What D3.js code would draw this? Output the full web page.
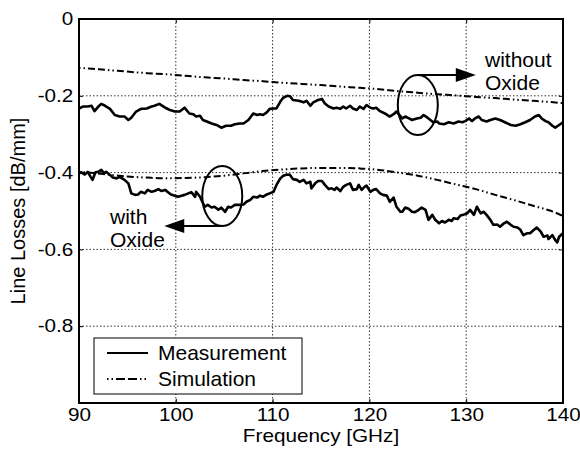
<!DOCTYPE html>
<html>
<head>
<meta charset="utf-8">
<script src="https://cdn.jsdelivr.net/npm/d3@7"></script>
<style>
body{margin:0;background:#fff}
text{font-family:"Liberation Sans",Arial,Helvetica,sans-serif;fill:#000}
</style>
</head>
<body>
<script>
var xTicks=[90,100,110,120,130,140]
var yTicks=[0,-0.2,-0.4,-0.6,-0.8,-1]
var yLabels=["0","-0.2","-0.4","-0.6","-0.8",""]
var legendNames=["Measurement","Simulation"]

// measurement without oxide
var measNoOxF=[90.0,90.4,90.9,91.3,91.6,92.0,92.3,92.7,93.2,93.7,94.2,94.7,95.1,95.4,95.9,96.4,97.0,97.5,97.8,98.3,98.9,99.4,99.9,100.4,100.9,101.4,101.8,102.1,102.5,102.8,103.2,103.7,104.2,104.7,105.2,105.7,106.1,106.6,107.0,107.5,108.0,108.4,108.7,109.0,109.4,109.7,110.1,110.4,110.8,111.1,111.5,111.8,112.1,112.7,113.2,113.5,113.9,114.2,114.7,115.1,115.4,115.8,116.3,116.6,117.0,117.3,117.6,118.0,118.3,118.7,119.0,119.4,119.7,120.1,120.4,120.7,121.1,121.6,122.1,122.5,122.8,123.4,123.7,124.1,124.4,124.9,125.3,125.6,126.0,126.3,126.6,127.0,127.2,127.7,128.2,128.7,129.2,129.6,129.9,130.3,130.6,130.9,131.3,131.6,132.1,132.5,133.0,133.5,134.0,134.6,135.1,135.6,136.1,136.6,137.1,137.5,137.8,138.2,138.5,138.9,139.2,139.6,140.0]
var measNoOxV=[-0.233,-0.228,-0.228,-0.226,-0.240,-0.228,-0.221,-0.226,-0.234,-0.250,-0.254,-0.254,-0.263,-0.257,-0.241,-0.234,-0.233,-0.228,-0.226,-0.221,-0.231,-0.237,-0.241,-0.241,-0.231,-0.246,-0.248,-0.254,-0.252,-0.263,-0.267,-0.272,-0.276,-0.283,-0.278,-0.278,-0.274,-0.272,-0.272,-0.263,-0.246,-0.250,-0.248,-0.250,-0.243,-0.234,-0.233,-0.233,-0.215,-0.205,-0.200,-0.201,-0.211,-0.213,-0.217,-0.213,-0.226,-0.217,-0.211,-0.208,-0.220,-0.228,-0.233,-0.231,-0.234,-0.228,-0.233,-0.226,-0.233,-0.237,-0.228,-0.234,-0.224,-0.231,-0.233,-0.231,-0.240,-0.246,-0.254,-0.248,-0.241,-0.259,-0.254,-0.259,-0.263,-0.259,-0.257,-0.250,-0.257,-0.263,-0.269,-0.267,-0.272,-0.274,-0.269,-0.272,-0.267,-0.269,-0.266,-0.259,-0.266,-0.259,-0.254,-0.263,-0.267,-0.263,-0.259,-0.263,-0.269,-0.276,-0.278,-0.274,-0.269,-0.263,-0.254,-0.250,-0.259,-0.266,-0.269,-0.278,-0.283,-0.276,-0.269]

// measurement with oxide
var measOxF=[90.0,90.2,90.6,90.9,91.2,91.4,91.7,92.0,92.3,92.6,92.8,93.2,93.5,93.9,94.2,94.7,95.1,95.4,95.8,96.1,96.4,96.8,97.1,97.5,97.8,98.2,98.5,98.9,99.2,99.5,99.9,100.2,100.6,100.9,101.3,101.6,102.0,102.1,102.5,102.7,103.0,103.3,103.7,104.0,104.4,104.7,105.1,105.4,105.7,106.1,106.6,107.0,107.3,107.7,108.0,108.4,108.7,109.0,109.4,109.7,110.1,110.4,110.8,111.1,111.5,111.8,112.1,112.5,112.8,113.2,113.5,113.9,114.0,114.4,114.7,115.1,115.4,115.8,116.1,116.4,116.6,117.0,117.3,117.6,118.0,118.3,118.7,118.9,119.2,119.5,119.7,120.1,120.4,120.7,121.1,121.4,121.8,122.1,122.5,122.8,123.2,123.4,123.7,124.1,124.4,124.7,125.1,125.4,125.8,126.1,126.5,126.8,127.2,127.5,127.8,128.2,128.5,128.7,129.1,129.4,129.7,130.1,130.4,130.8,131.1,131.5,131.8,132.1,132.5,132.8,133.2,133.5,133.9,134.2,134.6,134.9,135.3,135.6,135.9,136.3,136.6,137.0,137.3,137.7,138.0,138.4,138.5,138.9,139.2,139.4,139.6,140.0]
var measOxV=[-0.402,-0.399,-0.405,-0.398,-0.411,-0.419,-0.399,-0.398,-0.393,-0.402,-0.398,-0.406,-0.413,-0.415,-0.411,-0.419,-0.428,-0.454,-0.458,-0.457,-0.450,-0.454,-0.445,-0.450,-0.448,-0.443,-0.448,-0.445,-0.451,-0.457,-0.460,-0.463,-0.460,-0.458,-0.454,-0.451,-0.463,-0.450,-0.463,-0.474,-0.489,-0.484,-0.491,-0.489,-0.497,-0.491,-0.502,-0.489,-0.491,-0.484,-0.484,-0.483,-0.476,-0.471,-0.463,-0.465,-0.460,-0.463,-0.457,-0.454,-0.450,-0.432,-0.415,-0.408,-0.405,-0.406,-0.417,-0.419,-0.424,-0.419,-0.428,-0.424,-0.441,-0.428,-0.422,-0.422,-0.432,-0.443,-0.441,-0.445,-0.439,-0.448,-0.437,-0.432,-0.428,-0.445,-0.443,-0.432,-0.445,-0.437,-0.434,-0.450,-0.445,-0.443,-0.454,-0.458,-0.460,-0.476,-0.465,-0.489,-0.502,-0.502,-0.491,-0.495,-0.502,-0.503,-0.497,-0.491,-0.497,-0.523,-0.510,-0.523,-0.532,-0.526,-0.530,-0.523,-0.526,-0.519,-0.521,-0.512,-0.510,-0.506,-0.497,-0.510,-0.489,-0.506,-0.502,-0.510,-0.523,-0.536,-0.535,-0.541,-0.532,-0.528,-0.536,-0.541,-0.543,-0.549,-0.563,-0.558,-0.558,-0.549,-0.543,-0.554,-0.567,-0.564,-0.573,-0.563,-0.576,-0.582,-0.567,-0.558]

// simulation
var simF=[90,91,93,95,97,99,101,103,105,107,109,111,113,115,117,119,121,123,125,127,129,131,133,135,137,139,140]
var simNoOxV=[-0.127,-0.129,-0.133,-0.137,-0.141,-0.144,-0.148,-0.152,-0.155,-0.159,-0.162,-0.166,-0.169,-0.172,-0.176,-0.179,-0.183,-0.188,-0.192,-0.196,-0.199,-0.203,-0.206,-0.210,-0.213,-0.217,-0.219]
var simOxV=[-0.398,-0.400,-0.405,-0.410,-0.413,-0.415,-0.414,-0.412,-0.408,-0.402,-0.396,-0.392,-0.389,-0.388,-0.388,-0.389,-0.393,-0.400,-0.408,-0.419,-0.431,-0.443,-0.458,-0.472,-0.487,-0.502,-0.513]

var W=580,H=457
var m={left:79,right:17,top:19,bottom:54}
var fs="21px"
var simDash="1.5,3,1.5,3,7,3,7,3"

var svg=d3.select("body").append("svg")
          .attr("width",W)
          .attr("height",H)

var x=d3.scaleLinear().domain([90,140]).range([m.left,W-m.right])
var y=d3.scaleLinear().domain([-1,0]).range([H-m.bottom,m.top])

// grid
svg.append("g")
   .selectAll("line")
   .data(xTicks.slice(1,-1))
   .enter()
   .append("line")
   .attr("x1",function(d){return x(d)})
   .attr("x2",function(d){return x(d)})
   .attr("y1",y(0))
   .attr("y2",y(-1))
   .attr("stroke","#333")
   .attr("stroke-width",1)
   .attr("stroke-dasharray","1.5,2")
svg.append("g")
   .selectAll("line")
   .data(yTicks.slice(1,-1))
   .enter()
   .append("line")
   .attr("y1",function(d){return y(d)})
   .attr("y2",function(d){return y(d)})
   .attr("x1",x(90))
   .attr("x2",x(140))
   .attr("stroke","#333")
   .attr("stroke-width",1)
   .attr("stroke-dasharray","1.5,2")

// axes, ticks inward
svg.append("g").attr("transform","translate(0,"+y(-1)+")")
   .call(d3.axisBottom(x).tickValues(xTicks).tickSize(-4).tickPadding(5).tickFormat(d3.format("d")))
svg.append("g").attr("transform","translate(0,"+y(0)+")")
   .call(d3.axisTop(x).tickValues(xTicks).tickSize(-4).tickFormat(""))
svg.append("g").attr("transform","translate("+x(90)+",0)")
   .call(d3.axisLeft(y).tickValues(yTicks).tickSize(-4).tickPadding(5).tickFormat(function(d,i){return yLabels[i]}))
svg.append("g").attr("transform","translate("+x(140)+",0)")
   .call(d3.axisRight(y).tickValues(yTicks).tickSize(-4).tickFormat(""))
svg.selectAll(".domain").remove()
svg.selectAll(".tick line").attr("stroke","#000").attr("stroke-width",1)
// the figure's lettering is a bit wide, so stretch it a little
svg.selectAll(".tick text")
   .style("font-size","18px")
   .style("font-family","'Liberation Sans',Arial,sans-serif")
   .attr("transform","scale(1.15,1)")
   .attr("fill","#000")

svg.append("rect")
   .attr("x",x(90))
   .attr("y",y(0))
   .attr("width",x(140)-x(90))
   .attr("height",y(-1)-y(0))
   .attr("fill","none")
   .attr("stroke","#000")
   .attr("stroke-width",2)

// curves
var mline=d3.line().x(function(d){return x(d[0])}).y(function(d){return y(d[1])})
var sline=d3.line().x(function(d){return x(d[0])}).y(function(d){return y(d[1])}).curve(d3.curveMonotoneX)

function drawSeries(f,v,gen,dash,wd){
  svg.append("path")
     .datum(d3.zip(f,v))
     .attr("d",gen)
     .attr("fill","none")
     .attr("stroke","#000")
     .attr("stroke-width",wd)
     .attr("stroke-linejoin","round")
     .attr("stroke-dasharray",dash)
}
drawSeries(simF,simNoOxV,sline,simDash,2)
drawSeries(simF,simOxV,sline,simDash,2)
drawSeries(measNoOxF,measNoOxV,mline,null,2.6)
drawSeries(measOxF,measOxV,mline,null,2.6)

// annotations
function note(cf,cv,dir,lines,tx,ty){
  var cx=x(cf),cy=y(cv)
  svg.append("ellipse")
     .attr("cx",cx).attr("cy",cy)
     .attr("rx",20).attr("ry",30)
     .attr("fill","none").attr("stroke","#000").attr("stroke-width",2)
  var ay=dir>0?cy-30:cy+30
  var tip=cx+dir*58
  svg.append("line")
     .attr("x1",cx).attr("y1",ay)
     .attr("x2",tip-dir*18).attr("y2",ay)
     .attr("stroke","#000").attr("stroke-width",2)
  svg.append("path")
     .attr("d","M"+tip+","+ay+"L"+(tip-dir*20)+","+(ay-7)+"L"+(tip-dir*20)+","+(ay+7)+"Z")
     .attr("fill","#000")
  svg.append("g")
     .selectAll("text")
     .data(lines)
     .enter()
     .append("text")
     .attr("x",tx)
     .attr("y",function(d,i){return ty+i*23})
     .style("font-size",fs)
     .text(function(d){return d})
}
note(125,-0.224,1,["without","Oxide"],485,67)
note(104.8,-0.461,-1,["with","Oxide"],110,224)

// legend
var lg=svg.append("g")
lg.append("rect")
  .attr("x",94).attr("y",338)
  .attr("width",208).attr("height",56)
  .attr("fill","#fff").attr("stroke","#000").attr("stroke-width",1)
lg.selectAll("line")
  .data(legendNames)
  .enter()
  .append("line")
  .attr("x1",107).attr("x2",148)
  .attr("y1",function(d,i){return 353+i*26})
  .attr("y2",function(d,i){return 353+i*26})
  .attr("stroke","#000")
  .attr("stroke-width",2)
  .attr("stroke-dasharray",function(d,i){return i==0?null:"1.5,3,1.5,3,9,3,9,3"})
lg.selectAll("text")
  .data(legendNames)
  .enter()
  .append("text")
  .attr("x",158)
  .attr("y",function(d,i){return 360+i*26})
  .style("font-size",fs)
  .text(function(d){return d})

// axis titles
svg.append("text")
   .attr("transform","translate("+((x(90)+x(140))/2)+",442) scale(1.15,1)")
   .attr("text-anchor","middle")
   .style("font-size","18px")
   .text("Frequency [GHz]")
svg.append("text")
   .attr("transform","translate(25,"+((y(0)+y(-1))/2)+") rotate(-90)")
   .attr("text-anchor","middle")
   .style("font-size","20px")
   .text("Line Losses [dB/mm]")
</script>
</body>
</html>
